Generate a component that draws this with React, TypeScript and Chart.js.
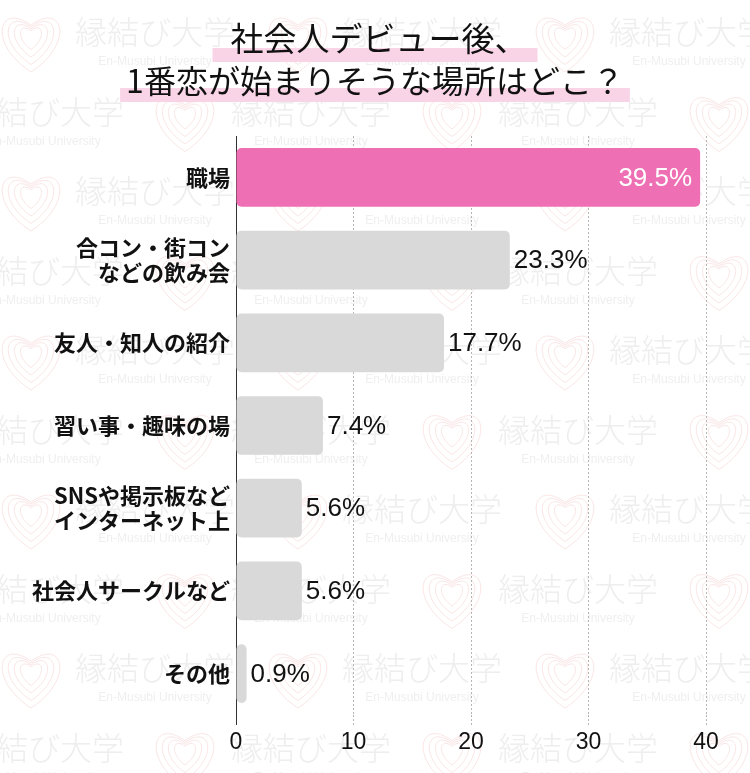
import { useEffect, useRef } from 'react';
import { Chart, registerables } from 'chart.js';

Chart.register(...registerables);

const titleLines = ['社会人デビュー後、', '1番恋が始まりそうな場所はどこ？'];
const categories: (string | string[])[] = [
  '職場',
  ['合コン・街コン', 'などの飲み会'],
  '友人・知人の紹介',
  '習い事・趣味の場',
  ['SNSや掲示板など', 'インターネット上'],
  '社会人サークルなど',
  'その他',
];
const values = [39.5, 23.3, 17.7, 7.4, 5.6, 5.6, 0.9];
const xMin = 0;
const xMax = 40;
const xStep = 10;
const watermarkText = '縁結び大学';
const watermarkSub = 'En-Musubi University';

const JP = '"Noto Sans CJK JP", "Noto Sans", sans-serif';
const LAT = '"Liberation Sans", Arial, sans-serif';
const PINK = '#ef6fb4';
const GRAY = '#d9d9d9';

function drawHeart(ctx: CanvasRenderingContext2D, cx: number, cy: number, w: number, h: number) {
  ctx.beginPath();
  ctx.moveTo(cx, cy + h * 0.5);
  ctx.bezierCurveTo(cx - w * 0.85, cy + h * 0.02, cx - w * 0.62, cy - h * 0.68, cx, cy - h * 0.28);
  ctx.bezierCurveTo(cx + w * 0.62, cy - h * 0.68, cx + w * 0.85, cy + h * 0.02, cx, cy + h * 0.5);
  ctx.stroke();
}

const backgroundPlugin = {
  id: 'bgTitle',
  beforeDraw(chart: any) {
    const ctx: CanvasRenderingContext2D = chart.ctx;
    ctx.save();
    ctx.fillStyle = '#ffffff';
    ctx.fillRect(0, 0, chart.width, chart.height);
    // watermark
    const period = 267;
    for (let r = 0; r < 10; r++) {
      const ry = 32 + r * 79.5;
      const typeA = r % 2 === 0;
      const textStart = typeA ? 75 : -36;
      const heartStart = typeA ? 5 : 159;
      for (let k = -1; k < 4; k++) {
        const tx = textStart + k * period;
        ctx.fillStyle = '#eeeeee';
        ctx.font = `300 32px ${JP}`;
        ctx.textAlign = 'left';
        ctx.textBaseline = 'middle';
        ctx.fillText(watermarkText, tx, ry);
        ctx.font = `12px ${LAT}`;
        ctx.textAlign = 'center';
        ctx.fillStyle = '#efefef';
        ctx.fillText(watermarkSub, tx + 80, ry + 30);
        const hx = heartStart + k * period + 26;
        ctx.strokeStyle = '#fbe6e6';
        ctx.lineWidth = 1;
        for (let j = 0; j < 4; j++) {
          drawHeart(ctx, hx, ry + 10 - j * 1.5, 52 - j * 11, 60 - j * 12);
        }
      }
    }
    // title
    const lineY = [38, 81];
    const hlTop = [48, 88];
    const fontSizes = [33, 32];
    titleLines.forEach((line, i) => {
      ctx.font = `400 ${fontSizes[i]}px ${JP}`;
      const w = ctx.measureText(line).width;
      ctx.fillStyle = '#f9d3e6';
      ctx.fillRect(375 - w / 2 - (i === 0 ? 14 : 6), hlTop[i], w + (i === 0 ? 28 : 12), 14);
    });
    ctx.fillStyle = '#111111';
    ctx.textAlign = 'center';
    ctx.textBaseline = 'middle';
    titleLines.forEach((line, i) => {
      ctx.font = `400 ${fontSizes[i]}px ${JP}`;
      ctx.fillText(line, 375 + (i === 0 ? 4 : 0), lineY[i]);
    });
    ctx.restore();
  },
};

const labelPlugin = {
  id: 'valueLabels',
  afterDatasetsDraw(chart: any) {
    const ctx: CanvasRenderingContext2D = chart.ctx;
    const meta = chart.getDatasetMeta(0);
    ctx.save();
    ctx.font = `26px ${LAT}`;
    ctx.textBaseline = 'middle';
    meta.data.forEach((bar: any, i: number) => {
      const { x, y } = bar.getProps(['x', 'y'], true);
      const txt = values[i].toFixed(1) + '%';
      if (values[i] >= 30) {
        ctx.fillStyle = '#ffffff';
        ctx.textAlign = 'right';
        ctx.fillText(txt, x - 8, y + 1);
      } else {
        ctx.fillStyle = '#111111';
        ctx.textAlign = 'left';
        ctx.fillText(txt, x + 4, y + 1);
      }
    });
    ctx.restore();
  },
};

export default function App() {
  const ref = useRef<HTMLCanvasElement | null>(null);
  useEffect(() => {
    if (!ref.current) return;
    const chart = new Chart(ref.current, {
      type: 'bar',
      data: {
        labels: categories,
        datasets: [
          {
            data: values,
            backgroundColor: values.map((_, i) => (i === 0 ? PINK : GRAY)),
            borderRadius: 5,
            borderSkipped: false,
            barPercentage: 0.71,
            categoryPercentage: 1,
          },
        ],
      },
      options: {
        indexAxis: 'y',
        responsive: false,
        animation: false,
        layout: { padding: { top: 136, right: 44, left: 0, bottom: 0 } },
        plugins: {
          legend: { display: false },
          tooltip: { enabled: false },
          title: { display: false },
        },
        scales: {
          x: {
            min: xMin,
            max: xMax,
            ticks: {
              stepSize: xStep,
              padding: 4,
              color: '#111111',
              font: { family: LAT, size: 23 },
            },
            grid: {
              color: (c: any) => (c.tick && c.tick.value === 0 ? '#333333' : '#b5b5b5'),
              lineWidth: 1,
              drawTicks: true,
              tickLength: 10,
              tickColor: (c: any) => (c.tick && c.tick.value === 0 ? '#333333' : '#b5b5b5'),
              tickBorderDash: (c: any) => (c.tick && c.tick.value === 0 ? [] : [2, 2]),
            },
            border: { display: false, dash: [2, 2] },
            afterFit: (scale: any) => {
              scale.height = 58;
            },
          },
          y: {
            ticks: {
              padding: 6,
              color: '#111111',
              font: { family: JP, size: 22, weight: 'bold', lineHeight: 1.1 },
            },
            grid: { display: false, drawTicks: false },
            border: { display: true, color: '#333333', width: 1 },
            afterFit: (scale: any) => {
              scale.width = 236;
            },
          },
        },
      } as any,
      plugins: [backgroundPlugin, labelPlugin],
    });
    return () => chart.destroy();
  }, []);
  return (
    <div style={{ position: 'absolute', left: 0, top: 0, width: 750, height: 773 }}>
      <canvas ref={ref} width={750} height={773} style={{ display: 'block' }} />
    </div>
  );
}
